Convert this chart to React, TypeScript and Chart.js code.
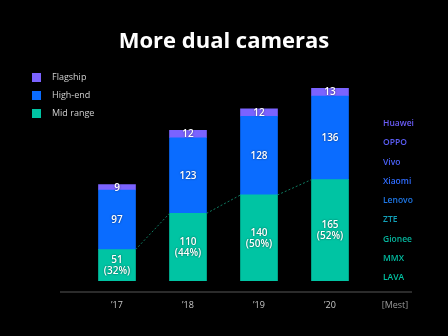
import React, { useEffect, useRef } from "react";
import { Chart, registerables } from "chart.js";
Chart.register(...registerables);

const years = ["\u201917", "\u201918", "\u201919", "\u201920"];
const midRange = [51, 110, 140, 165];
const highEnd = [97, 123, 128, 136];
const flagship = [9, 12, 12, 13];
const midShare = ["32%", "44%", "50%", "52%"];
const legendLabels = ["Flagship", "High-end", "Mid range"];
const brands = ["Huawei", "OPPO", "Vivo", "Xiaomi", "Lenovo", "ZTE", "Gionee", "MMX", "LAVA"];
const unitLabel = "[Mest]";
const titleText = "More dual cameras";

const COL_FLAG = "#7b63ff";
const COL_HIGH = "#0a6cff";
const COL_MID = "#00c4a3";
const legendColors = [COL_FLAG, COL_HIGH, COL_MID];
const brandColors = ["#6a5cf6", "#5c5ef8", "#4a62fa", "#2f6cff", "#1f78e8", "#12a0b8", "#05b49c", "#00bca0", "#00c2a2"];

const FONT = "'Open Sans', 'DejaVu Sans', sans-serif";

const overlayPlugin = {
  id: "overlay",
  afterDatasetsDraw(chart: any) {
    const ctx = chart.ctx;
    const area = chart.chartArea;
    ctx.save();
    // dotted connector between mid-range tops
    const mid = chart.getDatasetMeta(0);
    ctx.strokeStyle = "#0f7a60";
    ctx.lineWidth = 1;
    ctx.setLineDash([2, 2]);
    for (let i = 0; i < mid.data.length - 1; i++) {
      const a = mid.data[i];
      const b = mid.data[i + 1];
      ctx.beginPath();
      ctx.moveTo(a.x + a.width / 2, a.y);
      ctx.lineTo(b.x - b.width / 2, b.y);
      ctx.stroke();
    }
    ctx.setLineDash([]);
    // value labels
    ctx.textAlign = "center";
    ctx.textBaseline = "middle";
    ctx.font = "600 10px " + FONT;
    ctx.fillStyle = "#ffffff";
    ctx.shadowColor = "rgba(0,0,0,0.6)";
    ctx.shadowBlur = 2;
    chart.data.datasets.forEach((ds: any, di: number) => {
      const meta = chart.getDatasetMeta(di);
      meta.data.forEach((el: any, i: number) => {
        const cy = (el.y + el.base) / 2;
        if (di === 0) {
          ctx.fillText(String(ds.data[i]), el.x, cy - 5);
          ctx.fillText("(" + midShare[i] + ")", el.x, cy + 6);
        } else {
          ctx.fillText(String(ds.data[i]), el.x, cy + 0.5);
        }
      });
    });
    ctx.shadowBlur = 0;
    ctx.shadowColor = "transparent";
    // axis line
    const axisY = area.bottom + 11;
    ctx.strokeStyle = "#3a3a3a";
    ctx.lineWidth = 1.5;
    ctx.beginPath();
    ctx.moveTo(60, axisY);
    ctx.lineTo(412, axisY);
    ctx.stroke();
    // tick labels
    const xs = chart.scales.x;
    ctx.font = "9px " + FONT;
    ctx.fillStyle = "#c8c8c8";
    years.forEach((y, i) => {
      ctx.fillText(y, xs.getPixelForValue(i), axisY + 13);
    });
    ctx.fillStyle = "#9a9a9a";
    ctx.fillText(unitLabel, 395, axisY + 13);
    ctx.restore();
  },
};

export default function App() {
  const ref = useRef<HTMLCanvasElement>(null);
  useEffect(() => {
    document.body.style.margin = "0";
    document.body.style.background = "#000";
    const chart = new Chart(ref.current!, {
      type: "bar",
      data: {
        labels: years,
        datasets: [
          { label: legendLabels[2], data: midRange, backgroundColor: COL_MID },
          { label: legendLabels[1], data: highEnd, backgroundColor: COL_HIGH },
          { label: legendLabels[0], data: flagship, backgroundColor: COL_FLAG },
        ],
      },
      options: {
        animation: false,
        responsive: false,
        maintainAspectRatio: false,
        layout: { padding: { left: 81.5, right: 82.5, top: 88, bottom: 55 } },
        datasets: { bar: { barThickness: 37 } } as any,
        scales: {
          x: { stacked: true, display: false },
          y: { stacked: true, display: false, min: 0, max: 314 },
        },
        plugins: { legend: { display: false }, tooltip: { enabled: false }, title: { display: false } },
      },
      plugins: [overlayPlugin],
    });
    return () => chart.destroy();
  }, []);

  return (
    <div style={{ position: "fixed", left: 0, top: 0, width: 448, height: 336, background: "#000", overflow: "hidden", fontFamily: FONT }}>
      <canvas ref={ref} width={448} height={336} style={{ position: "absolute", left: 0, top: 0, width: 448, height: 336 }} />
      <div style={{ position: "absolute", left: 0, width: 448, top: 24, textAlign: "center", color: "#fff", fontSize: 22, fontWeight: 700, lineHeight: "30px" }}>
        {titleText}
      </div>
      {legendLabels.map((l, i) => (
        <div key={l} style={{ position: "absolute", left: 32, top: 72 + i * 18, height: 10, display: "flex", alignItems: "center" }}>
          <div style={{ width: 9, height: 9, background: legendColors[i] }} />
          <div style={{ marginLeft: 11, color: "#d0d0d0", fontSize: 9, lineHeight: "10px" }}>{l}</div>
        </div>
      ))}
      {brands.map((b, i) => (
        <div key={b} style={{ position: "absolute", left: 383, top: 117 + i * 19.25, color: brandColors[i], fontSize: 8.5, fontWeight: 600, lineHeight: "12px" }}>
          {b}
        </div>
      ))}
    </div>
  );
}
